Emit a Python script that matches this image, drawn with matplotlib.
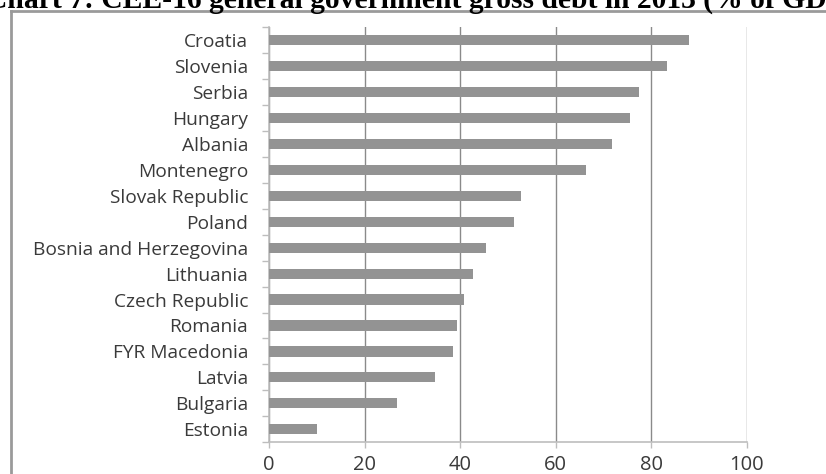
import matplotlib
matplotlib.use("Agg")
import matplotlib.pyplot as plt
from matplotlib.lines import Line2D
import numpy as np

countries = ["Croatia", "Slovenia", "Serbia", "Hungary", "Albania", "Montenegro",
             "Slovak Republic", "Poland", "Bosnia and Herzegovina", "Lithuania",
             "Czech Republic", "Romania", "FYR Macedonia", "Latvia", "Bulgaria",
             "Estonia"]
debt = [87.9, 83.4, 77.5, 75.6, 71.9, 66.4, 52.7, 51.2, 45.5, 42.6,
        40.8, 39.4, 38.6, 34.8, 26.8, 10.1]
x_ticks = [0, 20, 40, 60, 80, 100]

title = "Chart 7: CEE-16 general government gross debt in 2013 (% of GDP)"

W, H = 826, 474
fig = plt.figure(figsize=(W / 100, H / 100), dpi=100)

# axes box in pixel coordinates
ax_l, ax_r, ax_t, ax_b = 269, 746.7, 27, 442.3
ax = fig.add_axes([ax_l / W, 1 - ax_b / H, (ax_r - ax_l) / W, (ax_b - ax_t) / H])

n = len(countries)
ypos = np.arange(n)[::-1]
ax.barh(ypos, debt, height=0.39, color="#939393", zorder=3)

ax.set_xlim(0, 100)
ax.set_ylim(-0.5, n - 0.5)

ax.set_xticks(x_ticks)
ax.set_xticklabels([str(v) for v in x_ticks])
ax.set_yticks(ypos)
ax.set_yticklabels(countries)
ax.set_yticks(np.arange(n + 1) - 0.5, minor=True)

ax.grid(axis="x", color="#8a8a8a", linewidth=1.0, zorder=1)
ax.tick_params(axis="y", which="major", length=0, pad=15,
               labelsize=13.8, labelcolor="#3a3a3a")
ax.tick_params(axis="y", which="minor", length=5, width=1, color="#bdbdbd")
ax.tick_params(axis="x", which="major", length=4, width=1, color="#bdbdbd",
               pad=5, labelsize=14.5, labelcolor="#3a3a3a")
for lab in ax.get_yticklabels() + ax.get_xticklabels():
    lab.set_family("Open Sans")

for side in ["top", "right"]:
    ax.spines[side].set_visible(False)
for side in ["left", "bottom"]:
    ax.spines[side].set_color("#bdbdbd")
    ax.spines[side].set_linewidth(1.2)

# outer chart frame (left and top edges only, the rest runs off the page)
fig.add_artist(Line2D([10.5 / W, 10.5 / W], [0, 1 - 10.5 / H],
                      color="#9a9a9a", linewidth=2, transform=fig.transFigure))
fig.add_artist(Line2D([10.5 / W, 1], [1 - 10.5 / H, 1 - 10.5 / H],
                      color="#9a9a9a", linewidth=2, transform=fig.transFigure))

fig.text(-14 / W, 1 - 8 / H, title, ha="left", va="baseline",
         fontsize=21.3, fontweight="bold", family="Liberation Serif")

fig.savefig("out.png", dpi=100)
